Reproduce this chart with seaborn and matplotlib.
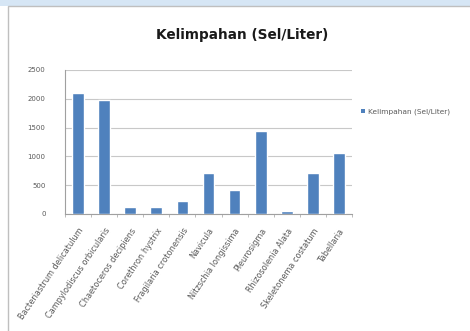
import matplotlib
matplotlib.use("Agg")
import matplotlib.pyplot as plt
import seaborn as sns
import pandas as pd
import numpy as np
from matplotlib.patches import Patch, Rectangle

categories = [
    "Bacteriastrum delicatulum",
    "Campylodiscus orbicularis",
    "Chaetoceros decipiens",
    "Corethron hystrix",
    "Fragilaria crotonensis",
    "Navicula",
    "Nitzschia longissima",
    "Pleurosigma",
    "Rhizosolenia Alata",
    "Skeletonema costatum",
    "Tabellaria",
]
values = [2100, 1975, 115, 115, 230, 710, 410, 1440, 50, 710, 1055]
series_name = "Kelimpahan (Sel/Liter)"
yticks = [0, 500, 1000, 1500, 2000, 2500]

df = pd.DataFrame({"Spesies": categories, series_name: values})

sns.set_theme(style="white")
plt.rcParams["font.family"] = ["DejaVu Sans"]

W, H = 470, 331
fig = plt.figure(figsize=(W / 100, H / 100), dpi=100)
fig.patch.set_facecolor("white")

# top strip of the surrounding document and chart frame
fig.add_artist(Rectangle((0, 1 - 6 / H), 1, 6 / H, transform=fig.transFigure,
                         facecolor="#d6e6f5", edgecolor="none", zorder=0))
fig.add_artist(Rectangle((8 / W, -0.05), 1.0, 1 - 6 / H + 0.05, transform=fig.transFigure,
                         facecolor="none", edgecolor="#bfbfbf", linewidth=1.0, zorder=1))

ax = fig.add_axes([65 / W, 1 - 214 / H, (352 - 65) / W, (214 - 70) / H])
sns.barplot(data=df, x="Spesies", y=series_name, color="#4F81BD", saturation=1,
            width=0.45, ax=ax, zorder=3)

ax.set_ylim(0, 2500)
ax.set_yticks(yticks)
ax.set_yticklabels([str(v) for v in yticks], fontsize=5, color="#595959")
ax.set_xlim(-0.5, len(categories) - 0.5)
ax.set_xlabel("")
ax.set_ylabel("")
ax.yaxis.grid(True, color="#c8c8c8", linewidth=0.8, zorder=0)
ax.set_axisbelow(True)
for s in ["top", "right"]:
    ax.spines[s].set_visible(False)
ax.spines["left"].set_color("#a0a0a0")
ax.spines["left"].set_linewidth(0.8)
ax.spines["bottom"].set_color("#a0a0a0")
ax.spines["bottom"].set_linewidth(0.8)

ax.set_xticks(range(len(categories)))
ax.set_xticklabels(categories, rotation=56, ha="right", rotation_mode="anchor",
                   fontsize=5.9, color="#595959")
ax.set_xticks(np.arange(len(categories) + 1) - 0.5, minor=True)
ax.tick_params(axis="x", which="major", length=0, pad=9)
ax.tick_params(axis="x", which="minor", length=2.5, width=0.6, color="#b0b0b0",
               direction="out", bottom=True)
ax.tick_params(axis="y", length=0, pad=14)

fig.text(242 / W, 1 - 35 / H, "Kelimpahan (Sel/Liter)", ha="center", va="center",
         fontsize=9.8, fontweight="bold", color="#1a1a1a")

handles = [Patch(facecolor="#4F81BD", edgecolor="none", label=series_name)]
fig.legend(handles=handles, loc="center left", bbox_to_anchor=(358 / W, 1 - 112 / H),
           frameon=False, fontsize=5.3, handlelength=0.6, handleheight=0.6,
           handletextpad=0.3, labelcolor="#595959", borderaxespad=0)

fig.savefig("out.png", dpi=100, facecolor="white")
